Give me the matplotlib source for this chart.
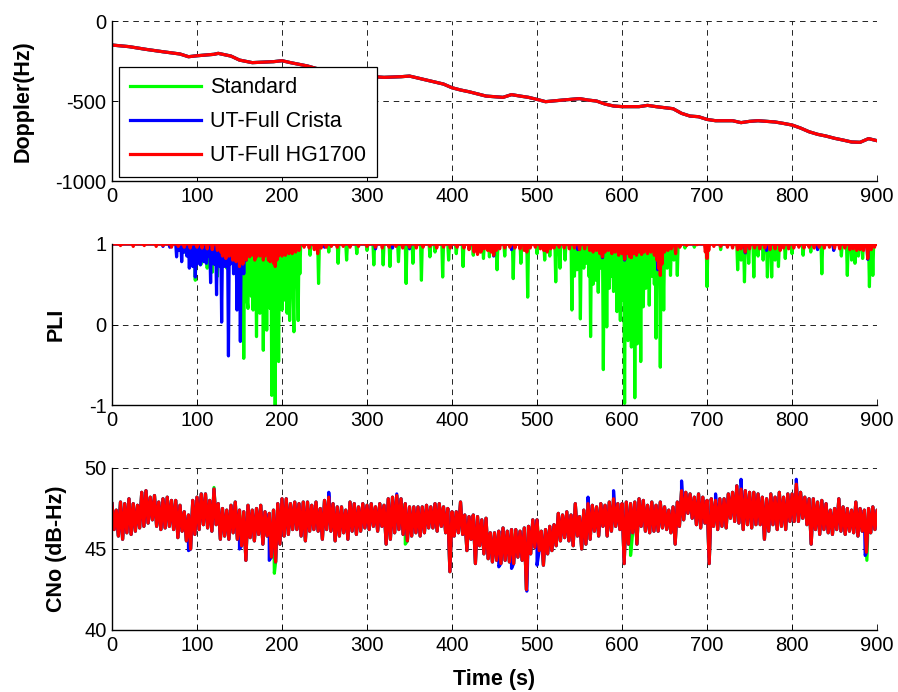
import numpy as np
import matplotlib
matplotlib.use("Agg")
import matplotlib.pyplot as plt

plt.rcParams['font.family'] = ['Liberation Sans', 'DejaVu Sans']
plt.rcParams['lines.scale_dashes'] = False
plt.rcParams['axes.unicode_minus'] = False

# ---- Doppler (Hz), the three receivers overlap almost exactly ----
dop_t = [0, 20, 40, 60, 80, 90, 100, 120, 125, 140, 150, 165, 190, 200, 210,
         230, 240, 260, 280, 300, 320, 340, 350, 370, 390, 400, 410, 420, 440, 460,
         470, 480, 490, 500, 510, 530, 550, 560, 570, 580, 590, 600, 620, 630, 640,
         660, 670, 680, 690, 700, 710, 730, 740, 750, 760, 780, 790, 800, 810, 820,
         830, 840, 850, 860, 870, 880, 890, 900]
dop_hz = [-150, -160, -177, -192, -206, -223, -217, -208, -202, -219, -244, -260, -254, -248, -260,
          -281, -296, -315, -330, -345, -352, -348, -344, -369, -394, -417, -431, -442, -469, -477,
          -460, -469, -477, -490, -504, -494, -485, -494, -500, -519, -531, -535, -535, -527, -535,
          -548, -577, -594, -598, -615, -623, -623, -635, -627, -623, -631, -640, -650, -669, -692,
          -708, -719, -733, -744, -756, -758, -735, -748]

# ---- PLI: value 1 except at these seconds ----
pli_std_t = [85, 92, 98, 105, 112, 118, 124, 135, 145, 150,
             155, 157, 159, 160, 162, 164, 166, 168, 170, 172, 174, 176, 178, 180, 182, 184, 186,
             188, 190, 192, 194, 196, 198, 200, 202, 204, 206, 208, 209, 211, 213, 214, 216, 218,
             219, 221, 233, 243, 255, 266, 276, 288, 300, 308, 319, 327, 337, 346, 354, 364, 374,
             380, 389, 396, 405, 413, 425, 433, 437, 444, 453, 462, 472, 481, 489, 500, 509, 515,
             522, 527, 533, 541, 544, 547, 551, 555, 558, 561, 563, 566, 569, 572, 575, 578, 580,
             582, 585, 588, 590, 592, 594, 596, 598, 600, 603, 605, 607, 609, 611, 613, 615, 617,
             618, 620, 622, 624, 625, 628, 630, 632, 635, 638, 640, 642, 645, 647, 649, 653, 657,
             661, 665, 674, 685, 700, 716, 736, 740, 744, 749, 755, 760, 766, 771, 776, 780, 784,
             792, 800, 813, 822, 835, 849, 858, 865, 870, 874, 878, 883, 891, 895]
pli_std = [0.9, 0.8, 0.55, 0.75, 0.7, 0.65, 0.6, 0.7, 0.65, 0.6,
           -0.42, 0.45, 0.3, 0.2, 0.5, 0.35, 0.18, 0.45, -0.15, 0.4, 0.14, 0.5, -0.32, 0.3, -0.07, 0.4, 0.2,
           -0.88, 0.1, -1.0, 0.3, -0.46, 0.5, 0.18, 0.45, 0.3, 0.14, 0.5, 0.05, 0.45, 0.35, -0.09, 0.5, 0.6,
           0.05, 0.63, 0.86, 0.51, 0.9, 0.76, 0.80, 0.88, 0.92, 0.74, 0.74, 0.72, 0.78, 0.51, 0.76, 0.55, 0.84,
           0.9, 0.59, 0.80, 0.88, 0.72, 0.86, 0.9, 0.82, 0.84, 0.68, 0.85, 0.57, 0.76, 0.34, 0.88, 0.80, 0.85,
           0.53, 0.70, 0.8, 0.18, 0.6, 0.68, 0.07, 0.7, 0.76, 0.6, -0.15, 0.5, 0.55, 0.4, 0.7, -0.56, 0.5,
           -0.03, 0.45, 0.6, 0.41, 0.5, 0.16, 0.4, 0.05, 0.3, -0.98, 0.3, -0.20, 0.4, -0.28, 0.2, -0.91, 0.35,
           -0.24, 0.3, -0.46, 0.4, 0.22, 0.45, 0.5, 0.24, 0.6, 0.5, -0.17, 0.55, -0.53, 0.6, 0.18, 0.7, 0.61,
           0.8, 0.61, 0.95, 0.96, 0.47, 0.93, 0.68, 0.8, 0.53, 0.76, 0.59, 0.85, 0.8, 0.59, 0.59, 0.8, 0.72,
           0.82, 0.88, 0.86, 0.9, 0.63, 0.93, 0.85, 0.61, 0.8, 0.76, 0.85, 0.82, 0.47, 0.61]

pli_crista_t = [60, 68, 76, 79, 82, 85, 88, 91, 93, 95, 98, 100, 102, 104, 106, 108, 110, 111, 113,
                116, 118, 120, 123, 125, 127, 129, 131, 133, 135, 137, 139, 141, 143, 145, 147, 149,
                151, 153, 155, 158, 162, 170, 180, 192, 200, 210, 220, 240, 250, 310, 330, 350, 449,
                470, 510, 548, 577, 603, 642, 700, 745, 770, 830, 849, 889]
pli_crista = [0.97, 0.96, 0.84, 0.92, 0.78, 0.9, 0.85, 0.70, 0.8, 0.72, 0.59, 0.75, 0.8, 0.74, 0.82, 0.78,
              0.8, 0.76, 0.85, 0.52, 0.8, 0.75, 0.37, 0.8, 0.72, 0.03, 0.78, 0.72, 0.8, -0.39, 0.75, 0.8,
              0.63, 0.75, 0.18, 0.72, -0.21, 0.75, 0.63, 0.8, 0.85, 0.9, 0.88, 0.85, 0.9, 0.93, 0.94, 0.95,
              0.96, 0.94, 0.95, 0.94, 0.85, 0.93, 0.92, 0.93, 0.83, 0.8, 0.68, 0.83, 0.89, 0.92, 0.93,
              0.92, 0.81]

pli_hg_t = [10, 25, 38, 52, 60, 70, 78, 85, 92, 100, 106, 112, 118, 124,
            128, 130, 132, 134, 136, 138, 140, 142, 144, 146, 148, 150, 152, 154, 156, 158, 160, 162,
            164, 166, 168, 170, 172, 174, 176, 178, 180, 182, 184, 186, 188, 190, 192, 194, 196, 198,
            200, 202, 204, 206, 208, 210, 212, 214, 216, 218, 220,
            226, 232, 238, 242, 246, 252, 258, 265, 272, 280, 290, 300, 310, 318, 326, 334, 342, 350,
            358, 366, 374, 382, 390, 398, 406, 414, 420, 426, 430, 434, 438, 442, 446, 449, 452, 456,
            462, 468, 474, 480, 485, 488, 492, 498, 504, 508, 512, 516, 520, 526, 532, 538, 544, 550,
            556, 562, 566, 570, 574, 577, 580, 584, 588, 592, 596, 600, 603, 606, 609, 611, 614, 617,
            620, 623, 626, 630, 634, 638, 641, 643, 645, 647, 650, 654, 658, 663, 668, 676, 688, 698,
            700, 702, 708, 716, 724, 730, 736, 740, 745, 750, 756, 762, 768, 774, 780, 786, 790, 796,
            802, 808, 814, 820, 826, 832, 838, 844, 850, 856, 862, 868, 872, 876, 880, 884, 889, 893, 897]
pli_hg = [0.98, 0.97, 0.98, 0.97, 0.98, 0.96, 0.97, 0.96, 0.95, 0.96, 0.95, 0.94, 0.93, 0.92,
          0.9, 0.85, 0.93, 0.82, 0.9, 0.85, 0.92, 0.8, 0.88, 0.78, 0.9, 0.72, 0.8, 0.75, 0.85, 0.8, 0.88, 0.84,
          0.9, 0.86, 0.8, 0.84, 0.9, 0.85, 0.88, 0.8, 0.85, 0.9, 0.8, 0.78, 0.82, 0.76, 0.72, 0.8, 0.85, 0.9,
          0.85, 0.9, 0.86, 0.9, 0.88, 0.92, 0.88, 0.93, 0.9, 0.94, 0.92,
          0.96, 0.95, 0.93, 0.88, 0.95, 0.96, 0.97, 0.96, 0.97, 0.96, 0.97, 0.97, 0.96, 0.95, 0.96, 0.97, 0.95, 0.96,
          0.95, 0.96, 0.97, 0.95, 0.96, 0.95, 0.96, 0.95, 0.93, 0.9, 0.87, 0.9, 0.94, 0.92, 0.9, 0.86, 0.92, 0.94,
          0.95, 0.96, 0.95, 0.94, 0.92, 0.9, 0.95, 0.96, 0.94, 0.92, 0.9, 0.94, 0.95, 0.96, 0.95, 0.94, 0.95, 0.93,
          0.94, 0.92, 0.9, 0.92, 0.88, 0.84, 0.9, 0.92, 0.88, 0.9, 0.86, 0.88, 0.81, 0.88, 0.84, 0.83, 0.88, 0.86,
          0.9, 0.87, 0.9, 0.88, 0.9, 0.86, 0.8, 0.7, 0.61, 0.75, 0.9, 0.92, 0.94, 0.88, 0.96, 0.98, 0.99, 0.9,
          0.82, 0.92, 0.97, 0.97, 0.96, 0.95, 0.93, 0.94, 0.9, 0.94, 0.95, 0.94, 0.95, 0.93, 0.94, 0.92, 0.95, 0.94,
          0.95, 0.96, 0.95, 0.96, 0.95, 0.96, 0.95, 0.96, 0.95, 0.94, 0.95, 0.93, 0.94, 0.92, 0.93, 0.92, 0.82, 0.93, 0.96]

# ---- CNo (dB-Hz): upper / lower edge of the noisy trace every 5 s (HG1700) ----
cno_hi = [47.8, 47.4, 47.9, 47.8, 48.1, 47.8, 47.7, 48.5, 48.6, 48.2,
          48.3, 47.9, 48.1, 48.2, 48.0, 48.0, 47.7, 47.3, 47.1, 48.0,
          48.2, 48.4, 48.4, 48.0, 48.7, 47.8, 47.5, 47.4, 47.7, 47.9,
          47.4, 47.3, 47.7, 47.4, 47.5, 47.7, 47.3, 47.2, 47.4, 47.8,
          48.1, 48.1, 47.8, 47.9, 47.8, 47.9, 47.9, 47.7, 47.9, 47.5,
          48.0, 48.2, 47.8, 47.6, 47.6, 47.4, 47.9, 47.8, 47.6, 47.8,
          47.7, 47.8, 47.6, 47.8, 47.7, 48.1, 48.2, 48.3, 48.1, 47.8,
          47.6, 47.6, 47.6, 47.6, 47.7, 47.6, 47.8, 47.8, 47.6, 47.5,
          47.3, 47.3, 47.9, 47.1, 47.0, 47.1, 47.0, 46.8, 46.9, 46.0,
          46.0, 46.1, 46.3, 46.1, 46.2, 46.2, 46.1, 46.3, 46.4, 46.8,
          46.8, 46.1, 46.2, 46.4, 46.5, 47.2, 47.1, 47.3, 47.1, 47.8,
          47.0, 47.4, 47.8, 47.7, 47.6, 47.8, 47.7, 47.9, 48.1, 47.8,
          47.8, 47.9, 47.8, 47.9, 48.1, 48.0, 47.7, 47.9, 47.7, 47.9,
          47.6, 47.4, 47.6, 47.9, 48.6, 48.5, 48.4, 48.2, 48.4, 48.2,
          48.0, 48.1, 48.0, 48.1, 48.1, 48.4, 48.5, 48.9, 48.7, 48.6,
          48.5, 48.5, 48.4, 48.2, 48.1, 48.4, 48.2, 48.5, 48.2, 48.4,
          48.4, 49.0, 48.5, 48.2, 48.1, 48.1, 47.9, 48.0, 47.8, 47.4,
          47.5, 48.1, 47.6, 47.5, 47.4, 47.9, 47.5, 47.4, 47.5, 47.6, 47.4]
cno_lo = [46.2, 45.8, 45.6, 46.0, 45.9, 46.1, 46.3, 46.4, 46.6, 46.8,
          46.4, 46.2, 46.3, 46.4, 46.2, 45.7, 46.1, 45.5, 45.0, 45.9,
          46.2, 46.5, 46.3, 46.1, 46.5, 45.6, 45.8, 45.6, 46.0, 45.6,
          45.2, 44.3, 45.7, 45.5, 45.9, 45.3, 45.8, 44.5, 44.2, 45.3,
          45.8, 45.9, 46.2, 46.2, 45.8, 45.5, 46.1, 46.2, 46.1, 45.6,
          46.2, 46.1, 45.5, 45.8, 46.0, 45.6, 46.1, 45.9, 46.1, 46.3,
          46.2, 46.4, 46.1, 46.4, 45.3, 45.6, 46.0, 46.2, 45.9, 45.5,
          45.8, 46.0, 45.8, 46.0, 46.3, 46.3, 46.1, 46.4, 46.0, 43.6,
          45.8, 46.0, 45.9, 44.9, 45.6, 44.1, 45.2, 44.7, 44.4, 44.2,
          44.3, 44.1, 44.3, 44.2, 44.1, 44.5, 44.3, 42.5, 44.7, 45.1,
          44.9, 44.0, 44.7, 44.9, 45.2, 45.5, 45.7, 45.5, 45.2, 45.8,
          45.0, 45.3, 45.6, 46.1, 45.8, 46.4, 45.8, 46.1, 46.4, 46.2,
          44.1, 45.3, 46.0, 45.3, 46.4, 46.1, 46.0, 46.1, 46.1, 46.3,
          46.2, 46.0, 45.3, 46.4, 46.8, 47.2, 46.9, 46.5, 46.3, 46.6,
          44.1, 46.4, 46.2, 46.4, 46.3, 46.9, 46.7, 46.6, 46.2, 46.5,
          46.3, 46.5, 46.5, 45.6, 46.1, 46.5, 46.2, 46.4, 46.2, 46.7,
          46.7, 46.7, 46.9, 46.5, 45.3, 46.2, 45.9, 46.2, 46.0, 45.9,
          46.2, 46.1, 45.9, 46.1, 46.0, 45.8, 46.1, 44.8, 46.0, 46.2, 46.4]
# points where the other two receivers stick out of the HG1700 trace
cno_crista_t = [90, 150, 185, 255, 335, 455, 470, 488, 500, 560, 590, 670, 710, 740, 805, 886]
cno_crista = [44.9, 45.0, 44.3, 48.5, 48.4, 43.9, 43.8, 42.4, 44.0, 48.2, 48.6, 49.2, 48.4, 49.3, 49.3, 44.6]
cno_std_t = [120, 191, 345, 610, 888]
cno_std = [48.8, 43.5, 45.3, 44.6, 44.3]

labels = ['Standard', 'UT-Full Crista', 'UT-Full HG1700']
colors = ['#00ff00', '#0000ff', '#ff0000']


def pli_series(t_list, v_list):
    t = np.arange(0, 901)
    v = np.ones(len(t))
    v[np.array(t_list)] = v_list
    return t, v


# zig-zag between the two edges of the noisy CNo trace
n = len(cno_hi)
t_zz = np.empty(2 * n)
v_zz = np.empty(2 * n)
t_zz[0::2] = np.arange(n) * 5.0
t_zz[1::2] = np.arange(n) * 5.0 + 2.5
v_zz[0::2] = cno_hi
v_zz[1::2] = cno_lo


def with_extra(t_extra, v_extra):
    t = np.concatenate([t_zz, t_extra])
    v = np.concatenate([v_zz, v_extra])
    order = np.argsort(t, kind='stable')
    return t[order], v[order]


fig = plt.figure(figsize=(8.98, 6.92), dpi=100)
ax1 = fig.add_axes([0.1247, 0.7384, 0.852, 0.2312])
ax2 = fig.add_axes([0.1247, 0.4147, 0.852, 0.2327])
ax3 = fig.add_axes([0.1247, 0.0896, 0.852, 0.2341])

lw = 2.3
for c, lab in zip(colors, labels):
    ax1.plot(dop_t, dop_hz, color=c, lw=lw, label=lab)

for tl, vl, c in [(pli_std_t, pli_std, colors[0]),
                  (pli_crista_t, pli_crista, colors[1]),
                  (pli_hg_t, pli_hg, colors[2])]:
    t, v = pli_series(tl, vl)
    ax2.plot(t, v, color=c, lw=lw)

t, v = with_extra(cno_std_t, cno_std)
ax3.plot(t, v, color=colors[0], lw=lw)
t, v = with_extra(cno_crista_t, cno_crista)
ax3.plot(t, v, color=colors[1], lw=lw)
ax3.plot(t_zz, v_zz, color=colors[2], lw=lw)

ax1.set_ylim(-1000, 0)
ax1.set_yticks([-1000, -500, 0])
ax2.set_ylim(-1, 1)
ax2.set_yticks([-1, 0, 1])
ax3.set_ylim(40, 50)
ax3.set_yticks([40, 45, 50])

for ax in (ax1, ax2, ax3):
    ax.set_xlim(0, 900)
    ax.set_xticks(range(0, 901, 100))
    ax.grid(True, color='k', lw=0.6, linestyle=(0, (4, 3.5)))
    ax.spines['top'].set_visible(False)
    ax.spines['right'].set_visible(False)
    ax.spines['left'].set_linewidth(1.0)
    ax.spines['bottom'].set_linewidth(1.0)
    ax.tick_params(direction='in', length=4, width=0.6, labelsize=14.5, pad=4)

ax1.set_ylabel('Doppler(Hz)', fontsize=15.5, fontweight='bold')
ax2.set_ylabel('PLI', fontsize=15.5, fontweight='bold')
ax3.set_ylabel('CNo (dB-Hz)', fontsize=15.5, fontweight='bold')
ax3.set_xlabel('Time (s)', fontsize=15.5, fontweight='bold')
ax1.yaxis.set_label_coords(-0.103, 0.5)
ax2.yaxis.set_label_coords(-0.059, 0.5)
ax3.yaxis.set_label_coords(-0.059, 0.5)
ax3.xaxis.set_label_coords(0.5, -0.24)

leg = ax1.legend(loc='lower left', bbox_to_anchor=(0.009, 0.025), fontsize=15.5,
                 frameon=True, fancybox=False, framealpha=1, edgecolor='k',
                 borderaxespad=0, handlelength=3.3, handletextpad=0.45,
                 labelspacing=0.6, borderpad=0.5)
leg.get_frame().set_linewidth(0.9)
leg.set_zorder(10)

fig.savefig('out.png', dpi=100)
